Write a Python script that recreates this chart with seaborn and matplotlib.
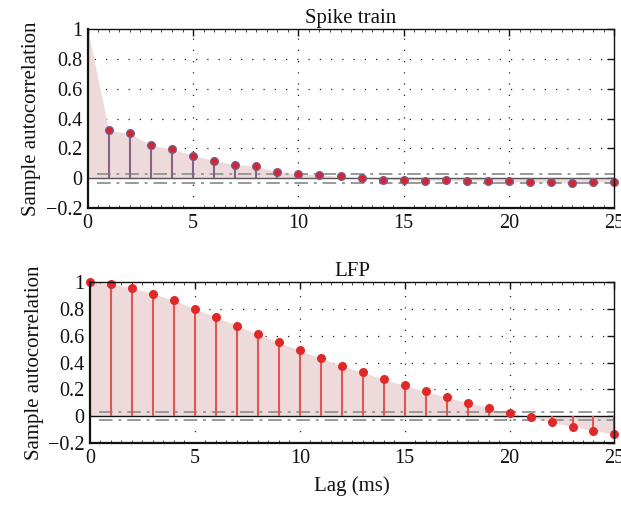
import numpy as np
import pandas as pd
import matplotlib
matplotlib.use("Agg")
import matplotlib.pyplot as plt
import seaborn as sns

# Lags (ms) and sample autocorrelation values
lags = list(range(26))
spike_acf = [1.0, 0.32, 0.30, 0.22, 0.197, 0.152, 0.118, 0.091, 0.080, 0.044, 0.031,
             0.022, 0.013, 0.002, -0.009, -0.011, -0.016, -0.014, -0.017, -0.017, -0.022,
             -0.027, -0.027, -0.031, -0.025, -0.025]
lfp_acf = [1.0, 0.985, 0.958, 0.913, 0.863, 0.80, 0.739, 0.675, 0.612, 0.55, 0.49,
           0.433, 0.376, 0.326, 0.276, 0.229, 0.184, 0.142, 0.10, 0.063, 0.022,
           -0.007, -0.047, -0.077, -0.107, -0.134]
conf_bound = 0.03
titles = ["Spike train", "LFP"]
xticks = [0, 5, 10, 15, 20, 25]
yticks = [-0.2, 0, 0.2, 0.4, 0.6, 0.8, 1]
yticklabels = ["\u22120.2", "0", "0.2", "0.4", "0.6", "0.8", "1"]

sns.set_theme(style="white")
plt.rcParams["font.family"] = ["Liberation Serif", "DejaVu Serif"]

fig = plt.figure(figsize=(6.21, 5.07), dpi=100)
ax_top = fig.add_axes([0.1412, 0.5897, 0.8483, 0.3531])
ax_bot = fig.add_axes([0.1449, 0.1262, 0.8446, 0.3176])

fill_color = "#eedada"
styles = [
    dict(stem="#86648a", face="#d8242c", edge="#7a5a8a", zero="#555555", show_lag0_marker=False),
    dict(stem="#e05555", face="#e02828", edge="#e02828", zero="#111111", show_lag0_marker=True),
]

for ax, acf, title, st in zip([ax_top, ax_bot], [spike_acf, lfp_acf], titles, styles):
    df = pd.DataFrame({"lag": lags, "acf": acf})
    ax.set_xlim(0, 25)
    ax.set_ylim(-0.2, 1)

    # dotted grid
    for x in [5, 10, 15, 20]:
        ax.axvline(x, color="#222222", lw=0.9, ls=(0, (1, 8)), zorder=1)
    for y in [0.2, 0.4, 0.6, 0.8]:
        ax.axhline(y, color="#222222", lw=0.9, ls=(4, (1, 8)), zorder=1)

    ax.fill_between(df["lag"], df["acf"], 0, color=fill_color, lw=0, zorder=2)

    # confidence bounds
    for b in (conf_bound, -conf_bound):
        ax.hlines(b, 0.45, 25, color="#999999", lw=1.4,
                  linestyles=[(0, (7, 3, 1.5, 3))], zorder=3)
    ax.axhline(0, color=st["zero"], lw=1.0, zorder=3)

    ax.vlines(df["lag"], 0, df["acf"], color=st["stem"], lw=1.5, zorder=4)
    pts = df if st["show_lag0_marker"] else df[df["lag"] > 0]
    sns.scatterplot(data=pts, x="lag", y="acf", ax=ax, s=30, color=st["face"],
                    edgecolor=st["edge"], linewidth=1.0, zorder=5, clip_on=False,
                    legend=False)

    ax.set_xticks(xticks)
    ax.set_yticks(yticks)
    ax.set_yticklabels(yticklabels)
    ax.set_xticks(np.arange(0, 25.01, 0.5), minor=True)
    ax.tick_params(which="major", direction="in", length=5, width=1.0,
                   top=True, right=True, labelsize=14.5, colors="#111111",
                   labelcolor="#111111", pad=4)
    ax.tick_params(which="minor", direction="in", length=2, width=0.6,
                   top=True, bottom=True, left=False, right=False)
    for side, sp in ax.spines.items():
        sp.set_color("#111111")
        sp.set_linewidth(1.6 if side in ("left", "bottom") else 1.0)
        sp.set_zorder(6)
    ax.set_title(title, fontsize=15, color="#111111", pad=4)
    ax.set_ylabel("Sample autocorrelation", fontsize=15, color="#111111", labelpad=3)
    ax.set_xlabel("")

ax_bot.set_xlabel("Lag (ms)", fontsize=15, color="#111111", labelpad=6)

fig.savefig("out.png", dpi=100)
